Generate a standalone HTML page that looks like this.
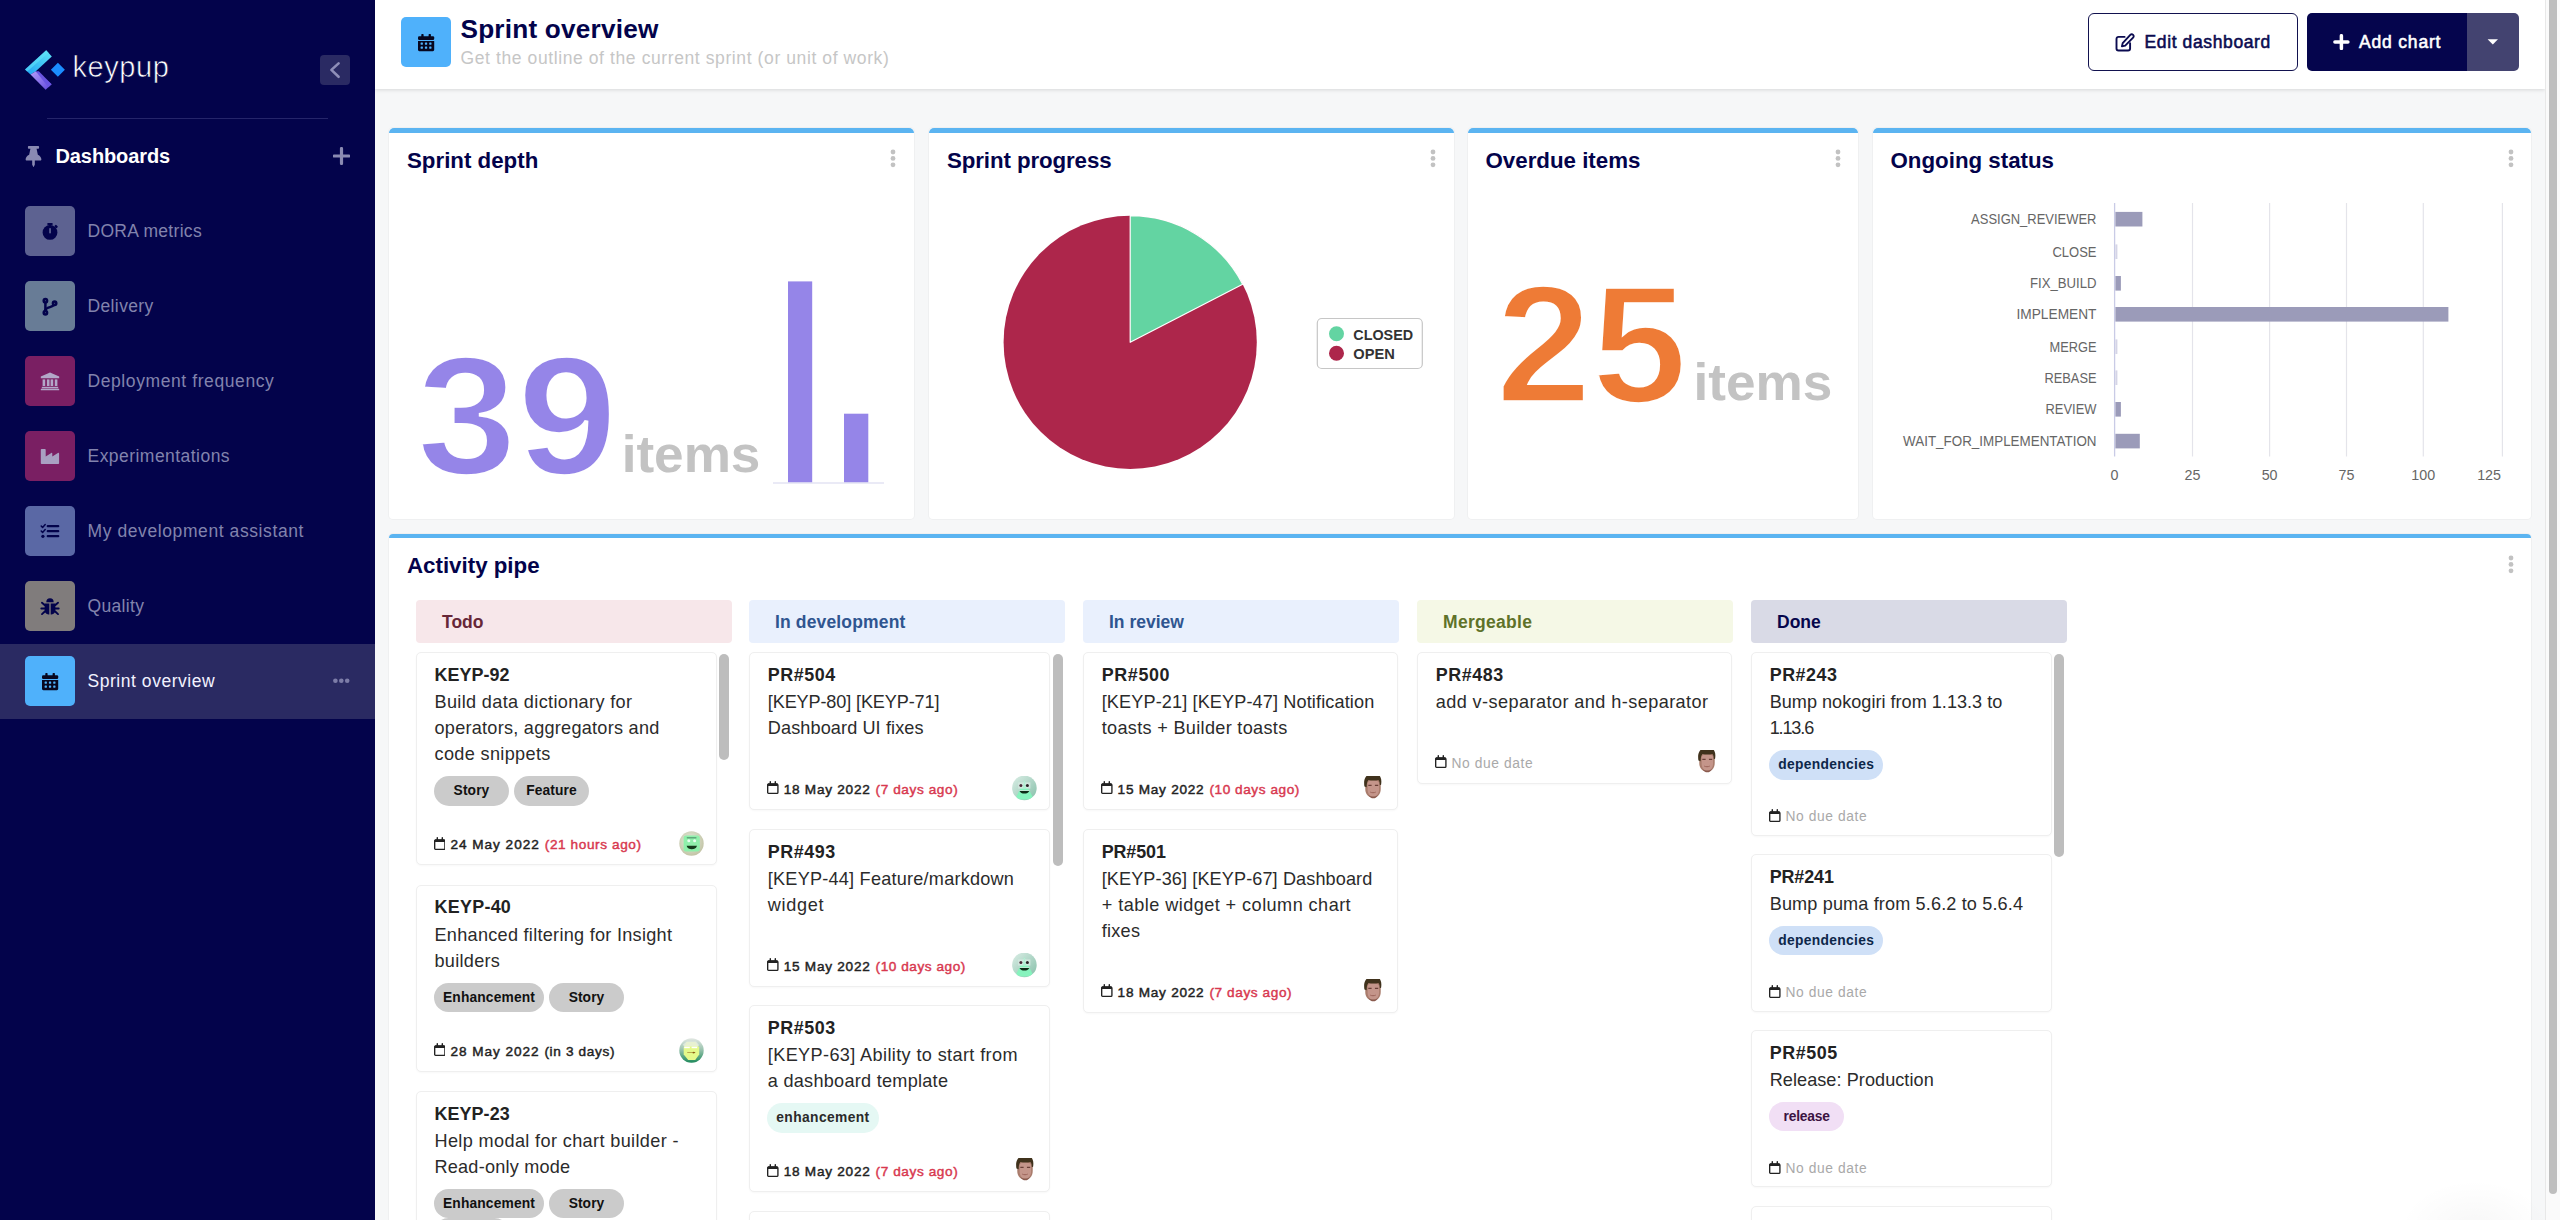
<!DOCTYPE html>
<html lang="en">
<head>
<meta charset="utf-8">
<title>Sprint overview</title>
<style>
*{box-sizing:border-box}
html,body{margin:0;padding:0}
body{width:2560px;height:1220px;overflow:hidden;position:relative;background:#f6f7f8;font-family:"Liberation Sans",sans-serif;color:#222}
.abs{position:absolute}
svg{display:block}
/* sidebar */
#sb{position:absolute;left:0;top:0;width:375px;height:1220px;background:#03034b}
#logo-txt{position:absolute;left:72.500px;top:47.300px;font-size:29px;line-height:40px;color:#fff;letter-spacing:.55px;-webkit-text-stroke:.65px #03034b;white-space:nowrap}
#collapse{position:absolute;left:320px;top:55px;width:30px;height:30px;border-radius:4px;background:#2a2a63}
#sb-div{position:absolute;left:47px;top:118px;width:281px;height:1px;background:#25256a}
#dash-h{position:absolute;left:55.5px;top:143px;font-size:20px;line-height:26px;font-weight:700;color:#fff;letter-spacing:-.1px;white-space:nowrap}
.nav{position:absolute;left:0;width:375px;height:75px}
.nav.act{background:#2a2a62}
.nav .tile{position:absolute;left:25px;top:12.5px;width:50px;height:50px;border-radius:5px}
.nav .lbl{position:absolute;left:87.5px;top:25px;font-size:17.5px;line-height:25px;color:#8283ad;letter-spacing:.47px;white-space:nowrap}
.nav.act .lbl{color:#f2f2ff}
.nav svg{position:absolute}
/* header */
#hd{position:absolute;left:375px;top:0;width:2169.500px;height:89px;background:#fff;box-shadow:0 1px 4px rgba(0,0,0,.13)}
#hd .tile{position:absolute;left:26px;top:17px;width:50px;height:50px;border-radius:5px;background:#4fb1fb}
#hd h1{position:absolute;left:85.5px;top:12px;margin:0;font-size:26.2px;line-height:34px;font-weight:700;color:#03034b;letter-spacing:.2px;white-space:nowrap}
#hd .sub{position:absolute;left:85.5px;top:45px;font-size:17.5px;line-height:26px;color:#c6c6c6;letter-spacing:.6px;white-space:nowrap}
.btn{position:absolute;top:13px;height:57.5px;border-radius:6px;font-size:17.5px;font-weight:700;white-space:nowrap}
#b-edit{left:1713px;width:210px;border:1.5px solid #12124f;background:#fff;color:#0b0b50}
#b-add{left:1932px;width:160px;background:#05054d;color:#fff;border-radius:5px 0 0 5px}
#b-dd{left:2092px;width:52px;background:#434370;border-radius:0 5px 5px 0}
.btn span{position:absolute;top:17.400px;line-height:22px;letter-spacing:0}
#b-edit span{font-weight:400;-webkit-text-stroke:.55px currentColor;letter-spacing:.62px}
#b-add span{font-weight:400;-webkit-text-stroke:.55px currentColor;letter-spacing:.82px;top:18.400px}
/* scrollbar */
#vs{position:absolute;left:2545.300px;top:0;width:14.700px;height:1220px;background:#fafafa;border-left:1px solid #e8e8e8}
#vs i{position:absolute;left:2.700px;top:-6px;width:8px;height:1199.500px;border-radius:4px;background:#bebebe}

/* widgets */
.w{position:absolute;background:#fff;border-radius:4px;box-shadow:0 0 0 1px #eff0f1}
.w:before{content:"";position:absolute;left:0;top:0;right:0;height:4.5px;background:#5bb4f1;border-radius:5px 5px 0 0}
.w h2{position:absolute;left:18px;top:18.800px;margin:0;font-size:22.3px;line-height:28px;font-weight:700;color:#03034b;white-space:nowrap}
.w .kb{position:absolute;top:21px;right:16.300px;width:8px;height:20px}
#ch{position:absolute;left:0;top:0;pointer-events:none}
#ch text{font-family:"Liberation Sans",sans-serif}

/* kanban */
.colh{position:absolute;top:600px;width:315.500px;height:43px;border-radius:4px;font-size:17.500px;font-weight:700;line-height:44.200px;padding-left:26px;white-space:nowrap}
.col{position:absolute;top:652.300px}
.card{position:relative;background:#fff;border:1px solid #efefef;border-radius:5px;padding:7.200px 17.500px 7.300px 17.500px;box-shadow:0 1px 2px rgba(0,0,0,.03)}
.card .t{font-size:17.900px;line-height:26px;font-weight:700;color:#222;white-space:nowrap;margin-top:1.300px}
.card .b{font-size:18.100px;line-height:26px;color:#2b2b2b;white-space:nowrap;margin-top:.900px;position:relative;top:.450px}
.card .bd{padding-top:9.400px;height:9.900px;white-space:nowrap;font-size:0;margin-left:-.500px}
.card .bd.h{height:39.400px}
.bg{display:inline-block;height:29.500px;min-width:75px;padding:0 9px;border-radius:15px;background:#cbcbcb;color:#111;font-size:13.800px;line-height:30px;font-weight:700;text-align:center;margin-right:5px;letter-spacing:0;vertical-align:top}
.card .f{margin-top:26px;height:25px;position:relative;font-size:13.600px;line-height:25px;font-weight:700;color:#222;white-space:nowrap}
.card .f.n{height:21.300px;line-height:21.300px;font-weight:400;color:#a9a9a9;font-size:13.800px}
.card .f .cal{position:absolute;left:-.700px;top:4.500px}
.card .f.n .cal{top:2.900px}
.card .f.n.a{height:25px;line-height:25px}
.card .f.n.a .cal{top:4.500px}
.card .f .d{position:absolute;left:15.900px;top:.400px;font-weight:400;-webkit-text-stroke:.45px currentColor}

.card .f.n .d{-webkit-text-stroke:0}
.card .f .r{color:#d8384f;margin-left:5px}
.card .f .k{margin-left:5px}
.card .f .av{position:absolute;right:-5.500px;top:-.600px;width:25px;height:25px}
.csb{position:absolute;width:10.500px;border-radius:5.500px;background:#bdbdbd}
</style>
</head>
<body>
<!-- SIDEBAR -->
<div id="sb">
  <svg class="abs" style="left:20px;top:45px" width="50" height="50" viewBox="20 45 50 50">
    <defs>
      <linearGradient id="lg1" x1="0" y1="1" x2="1" y2="0"><stop offset="0" stop-color="#1fa2f4"/><stop offset="1" stop-color="#5fe6f6"/></linearGradient>
      <linearGradient id="lg2" x1="0" y1="0" x2="1" y2="1"><stop offset="0" stop-color="#b39cfa"/><stop offset="1" stop-color="#5f48dc"/></linearGradient>
    </defs>
    <polygon points="25,69.5 46.2,50.2 51.8,56.4 35.8,71.2 30.5,74.6" fill="url(#lg1)"/>
    <polygon points="25,69.5 46.2,50.2 48.6,52.8 27.2,71.6" fill="#62e4f7" opacity=".55"/>
    <polygon points="30.5,74.6 35.8,71.2 51.6,84.2 45.6,89.8" fill="url(#lg2)"/>
    <polygon points="35.8,71.2 38.8,71.2 51.6,84.2 48.4,87.2" fill="#6a55e2"/>
    <polygon points="57.9,62.8 64.9,69.8 57.9,76.8 50.9,69.8" fill="#1b8dff"/>
  </svg>
  <div id="logo-txt">keypup</div>
  <div id="collapse"><svg width="30" height="30" viewBox="0 0 30 30"><polyline points="18.6,8.4 11.4,14.9 18.6,21.8" fill="none" stroke="#8e8eb8" stroke-width="2.6" stroke-linecap="round" stroke-linejoin="round"/></svg></div>
  <div id="sb-div"></div>
  <svg class="abs" style="left:25px;top:146px" width="17" height="21" viewBox="0 0 384 512"><path fill="#8a8ab2" d="M298 214l-31-150h37c13 0 24-11 24-24V24c0-13-11-24-24-24H80C67 0 56 11 56 24v16c0 13 11 24 24 24h37L86 214C37 237 0 277 0 328c0 13 11 24 24 24h136v104c0 1 0 2 1 4l24 48c3 6 11 6 14 0l24-48c1-2 1-3 1-4V352h136c13 0 24-11 24-24 0-51-37-91-86-114z"/></svg>
  <div id="dash-h">Dashboards</div>
  <svg class="abs" style="left:333px;top:147px" width="17" height="18" viewBox="0 0 17 18"><path d="M8.5 1.5v15M1.2 9h14.6" stroke="#8a8ab2" stroke-width="3.2" stroke-linecap="round" fill="none"/></svg>

  <div class="nav" style="top:193.5px"><div class="tile" style="background:#5d6291"></div><div class="lbl" style="letter-spacing:.3px">DORA metrics</div></div>
  <div class="nav" style="top:268.5px"><div class="tile" style="background:#687c96"></div><div class="lbl" style="letter-spacing:.37px">Delivery</div></div>
  <div class="nav" style="top:343.5px"><div class="tile" style="background:#7a1f63"></div><div class="lbl" style="letter-spacing:.59px">Deployment frequency</div></div>
  <div class="nav" style="top:418.5px"><div class="tile" style="background:#7a1f63"></div><div class="lbl" style="letter-spacing:.46px">Experimentations</div></div>
  <div class="nav" style="top:493.5px"><div class="tile" style="background:#5a68a5"></div><div class="lbl" style="letter-spacing:.59px">My development assistant</div></div>
  <div class="nav" style="top:568.5px"><div class="tile" style="background:#807c7c"></div><div class="lbl" style="letter-spacing:.32px">Quality</div></div>
  <div class="nav act" style="top:643.5px"><div class="tile" style="background:#4fb1fb"></div><div class="lbl" style="letter-spacing:.54px">Sprint overview</div>
    <svg style="left:332px;top:33px" width="20" height="8" viewBox="0 0 20 8"><circle cx="3.4" cy="3.7" r="2.3" fill="#7d7da8"/><circle cx="9.3" cy="3.7" r="2.3" fill="#7d7da8"/><circle cx="15.2" cy="3.7" r="2.3" fill="#7d7da8"/></svg>
  </div>
  <svg class="abs" style="left:25px;top:206px" width="50" height="50" viewBox="0 0 50 50"><circle cx="25" cy="26.4" r="7.4" fill="#03034b"/><rect x="22.4" y="17" width="5.2" height="2.2" rx=".6" fill="#03034b"/><rect x="24" y="18.5" width="2" height="2.2" fill="#03034b"/><rect x="29.6" y="19.3" width="3" height="2.4" rx=".6" transform="rotate(45 31.1 20.5)" fill="#03034b"/><rect x="24.2" y="22" width="1.7" height="5.6" rx=".8" fill="#5d6291"/></svg>
  <svg class="abs" style="left:25px;top:281px" width="50" height="50" viewBox="0 0 50 50"><g fill="none" stroke="#03034b" stroke-width="2.5"><path d="M20.4 20v11.5"/><path d="M29.6 22.6c0 4.600-9.200 2.400-9.200 7"/><circle cx="20.400" cy="19.700" r="1.700" fill="#687c96"/><circle cx="20.400" cy="31.700" r="1.700" fill="#687c96"/><circle cx="29.600" cy="22.200" r="1.700" fill="#687c96"/></g></svg>
  <svg class="abs" style="left:25px;top:356px" width="50" height="50" viewBox="0 0 50 50"><g fill="#b3a7c8"><path d="M25 16.4 34.2 20.6v1.6H15.8v-1.6z"/><rect x="17.6" y="23.4" width="2.6" height="6.6"/><rect x="21.9" y="23.4" width="2.6" height="6.6"/><rect x="25.6" y="23.4" width="2.6" height="6.6"/><rect x="29.8" y="23.4" width="2.6" height="6.6"/><rect x="16.8" y="30.8" width="16.4" height="1.5"/><rect x="15.8" y="32.8" width="18.4" height="1.5" rx=".4"/></g></svg>
  <svg class="abs" style="left:25px;top:431px" width="50" height="50" viewBox="0 0 50 50"><path fill="#a9a0c2" d="M16.6 18h3.3c.5 0 .8.3.8.8v6.7l5.6-3.6c.5-.3 1 0 1 .6v3l5.6-3.6c.5-.3 1.2 0 1.2.6v9.7c0 .5-.3.8-.8.8H16.6c-.5 0-.8-.3-.8-.8V18.800c0-.5.3-.8.8-.8z"/></svg>
  <svg class="abs" style="left:25px;top:506px" width="50" height="50" viewBox="0 0 50 50"><g stroke="#03034b" fill="none" stroke-width="2.3" stroke-linecap="round"><path d="M22.8 20.200h10.400M22.800 25.200h10.400M22.800 30.200h10.400"/></g><g stroke="#03034b" fill="none" stroke-width="1.5" stroke-linecap="round" stroke-linejoin="round"><path d="M16.200 20l1.400 1.400 2.600-2.800M16.200 25l1.400 1.400 2.600-2.800"/></g><circle cx="17.900" cy="30.300" r="1.600" fill="#03034b"/></svg>
  <svg class="abs" style="left:25px;top:581px" width="50" height="50" viewBox="0 0 50 50"><g fill="#03034b"><path d="M21.300 21.200a3.700 3.900 0 0 1 7.400 0z"/><path d="M19.600 22.500h4.700v11h-.7a4.400 4.400 0 0 1-4-4.400zM25.700 22.500h4.700v6.600a4.400 4.400 0 0 1-4 4.400h-.7z"/></g><g stroke="#03034b" stroke-width="1.900" fill="none" stroke-linecap="round"><path d="M19.600 24l-2.600-2.300M19.600 27.500h-3.300M19.800 30.500l-2.800 2.600M30.400 24l2.600-2.300M30.400 27.500h3.300M30.200 30.500l2.800 2.600"/></g></svg>
  <svg class="abs" style="left:25px;top:656px" width="50" height="50" viewBox="0 0 50 50"><g fill="#07071f"><rect x="17" y="19.200" width="16.200" height="3.800" rx="1.200"/><rect x="20.300" y="17" width="2.300" height="4" rx=".7"/><rect x="27.600" y="17" width="2.300" height="4" rx=".7"/><path d="M17 24h16.200v8.800c0 .8-.6 1.400-1.400 1.400H18.400c-.8 0-1.400-.6-1.400-1.400z"/></g><rect x="19.6" y="25.6" width="2.300" height="2.100" rx=".4" fill="#4fb1fb"/><rect x="23.9" y="25.6" width="2.300" height="2.100" rx=".4" fill="#4fb1fb"/><rect x="28.2" y="25.6" width="2.300" height="2.100" rx=".4" fill="#4fb1fb"/><rect x="19.6" y="29.6" width="2.300" height="2.100" rx=".4" fill="#4fb1fb"/><rect x="23.9" y="29.6" width="2.300" height="2.100" rx=".4" fill="#4fb1fb"/><rect x="28.2" y="29.6" width="2.300" height="2.100" rx=".4" fill="#4fb1fb"/></svg>
  <!--SBICONS-->
</div>

<!-- HEADER -->
<div id="hd">
  <div class="tile"></div>
  <svg class="abs" style="left:26px;top:17px" width="50" height="50" viewBox="0 0 50 50"><g fill="#07071f"><rect x="17" y="19.200" width="16.200" height="3.800" rx="1.200"/><rect x="20.300" y="17" width="2.300" height="4" rx=".7"/><rect x="27.600" y="17" width="2.300" height="4" rx=".7"/><path d="M17 24h16.200v8.800c0 .8-.6 1.400-1.400 1.400H18.400c-.8 0-1.400-.6-1.400-1.400z"/></g><rect x="19.6" y="25.6" width="2.300" height="2.100" rx=".4" fill="#4fb1fb"/><rect x="23.9" y="25.6" width="2.300" height="2.100" rx=".4" fill="#4fb1fb"/><rect x="28.2" y="25.6" width="2.300" height="2.100" rx=".4" fill="#4fb1fb"/><rect x="19.6" y="29.6" width="2.300" height="2.100" rx=".4" fill="#4fb1fb"/><rect x="23.9" y="29.6" width="2.300" height="2.100" rx=".4" fill="#4fb1fb"/><rect x="28.2" y="29.6" width="2.300" height="2.100" rx=".4" fill="#4fb1fb"/></svg>
  <h1>Sprint overview</h1>
  <div class="sub">Get the outline of the current sprint (or unit of work)</div>
  <div class="btn" id="b-edit"><span style="left:55.5px">Edit dashboard</span></div>
  <div class="btn" id="b-add"><span style="left:52px">Add chart</span></div>
  <div class="btn" id="b-dd"></div>
  <svg class="abs" style="left:1740px;top:33px" width="21" height="19" viewBox="0 0 21 19"><g fill="none" stroke="#0b0b50" stroke-width="1.900" stroke-linejoin="round" stroke-linecap="round"><path d="M9.600 3.900H3.500c-1.100 0-2 .9-2 2v9.600c0 1.100.9 2 2 2h9.600c1.100 0 2-.9 2-2V10.200"/><path d="M15.300 1.900c.8-.8 2-.8 2.800 0s.8 2 0 2.800L10.200 12.600 6.900 13.400l.8-3.300z"/></g></svg>
  <svg class="abs" style="left:1958px;top:34px" width="17" height="16" viewBox="0 0 17 16"><path d="M8.400 1.700v12.700M1.900 8h13" stroke="#fff" stroke-width="3.500" stroke-linecap="round" fill="none"/></svg>
  <svg class="abs" style="left:2112px;top:39px" width="12" height="6" viewBox="0 0 12 6"><path d="M.6.300h10.400L5.800 5.500z" fill="#fff"/></svg>
</div>
<div id="vs"><i></i></div>
<div style="position:absolute;left:2400px;top:1170px;width:145px;height:50px;background:radial-gradient(ellipse 75px 50px at 75px 60px,rgba(0,0,0,.03),rgba(0,0,0,0));z-index:5"></div>


<div class="w" style="left:389px;top:128px;width:524.500px;height:390.500px"><h2>Sprint depth</h2><svg class="kb" viewBox="0 0 8 20"><circle cx="4" cy="3" r="2.4" fill="#c2c2c2"/><circle cx="4" cy="9.400" r="2.400" fill="#c2c2c2"/><circle cx="4" cy="15.800" r="2.400" fill="#c2c2c2"/></svg></div>
<div class="w" style="left:929px;top:128px;width:524.500px;height:390.500px"><h2 style="letter-spacing:-.1px">Sprint progress</h2><svg class="kb" viewBox="0 0 8 20"><circle cx="4" cy="3" r="2.4" fill="#c2c2c2"/><circle cx="4" cy="9.400" r="2.400" fill="#c2c2c2"/><circle cx="4" cy="15.800" r="2.400" fill="#c2c2c2"/></svg></div>
<div class="w" style="left:1467.500px;top:128px;width:390.500px;height:390.500px"><h2>Overdue items</h2><svg class="kb" viewBox="0 0 8 20"><circle cx="4" cy="3" r="2.4" fill="#c2c2c2"/><circle cx="4" cy="9.400" r="2.400" fill="#c2c2c2"/><circle cx="4" cy="15.800" r="2.400" fill="#c2c2c2"/></svg></div>
<div class="w" style="left:1872.500px;top:128px;width:658.500px;height:390.500px"><h2>Ongoing status</h2><svg class="kb" viewBox="0 0 8 20"><circle cx="4" cy="3" r="2.4" fill="#c2c2c2"/><circle cx="4" cy="9.400" r="2.400" fill="#c2c2c2"/><circle cx="4" cy="15.800" r="2.400" fill="#c2c2c2"/></svg></div>
<div class="w" id="ap" style="left:389px;top:533.500px;width:2142px;height:700px"><h2 style="top:18px">Activity pipe</h2><svg class="kb" viewBox="0 0 8 20"><circle cx="4" cy="3" r="2.4" fill="#c2c2c2"/><circle cx="4" cy="9.400" r="2.400" fill="#c2c2c2"/><circle cx="4" cy="15.800" r="2.400" fill="#c2c2c2"/></svg></div>

<svg id="ch" width="2560" height="1220" viewBox="0 0 2560 1220">
  <text id="n39" x="416.500" y="474.300" font-size="169" font-weight="700" fill="#9585e8" stroke="#fff" stroke-width="3.600" textLength="201" lengthAdjust="spacingAndGlyphs">39</text>
  <text id="it1" x="621.700" y="472" font-size="52" font-weight="700" fill="#c3c3c3" textLength="138.700" lengthAdjust="spacingAndGlyphs">items</text>
  <rect x="788" y="281.400" width="24.200" height="201" fill="#9585e8"/>
  <rect x="844" y="413.700" width="24.300" height="68.700" fill="#9585e8"/>
  <path d="M773 483H884" stroke="#d5d6ee" stroke-width="1.200"/>
  <circle cx="1130.2" cy="342.3" r="126.6" fill="#ad264b"/>
  <path d="M1130.2 342.3L1130.2 215.70000000000002A126.6 126.6 0 0 1 1242.7 284.2Z" fill="#63d4a2" stroke="#fff" stroke-width="1.200" stroke-linejoin="round"/>
  <rect x="1317.300" y="318.500" width="105" height="50" rx="4.500" fill="#fff" stroke="#c6c6c6" stroke-width="1.200"/>
  <circle cx="1336.500" cy="333.700" r="7.500" fill="#63d4a2"/><circle cx="1336.500" cy="353.200" r="7.500" fill="#ad264b"/>
  <text x="1353.300" y="339.500" font-size="15.200" font-weight="700" fill="#333" textLength="59.800" lengthAdjust="spacingAndGlyphs">CLOSED</text>
  <text x="1353.300" y="358.800" font-size="15.200" font-weight="700" fill="#333" textLength="41.500" lengthAdjust="spacingAndGlyphs">OPEN</text>
  <text id="n25" x="1495.700" y="401.600" font-size="167" font-weight="700" fill="#ee7b36" stroke="#fff" stroke-width="3.600" textLength="191.800" lengthAdjust="spacingAndGlyphs">25</text>
  <text id="it2" x="1693.600" y="400.400" font-size="52" font-weight="700" fill="#c3c3c3" textLength="138.700" lengthAdjust="spacingAndGlyphs">items</text>
  <path d="M2192.5 203V456.500" stroke="#e4e4ea" stroke-width="1.200"/><path d="M2269.6 203V456.500" stroke="#e4e4ea" stroke-width="1.200"/><path d="M2346.5 203V456.500" stroke="#e4e4ea" stroke-width="1.200"/><path d="M2423.3 203V456.500" stroke="#e4e4ea" stroke-width="1.200"/><path d="M2502.4 203V456.500" stroke="#e4e4ea" stroke-width="1.200"/><path d="M2114.6 203V456.500" stroke="#c9cbe6" stroke-width="1.300"/><rect x="2115.4" y="211.9" width="27" height="14.6" fill="#9b9bb9"/><text x="2096.500" y="224.2" text-anchor="end" font-size="14.300" fill="#666" textLength="125.4" lengthAdjust="spacingAndGlyphs">ASSIGN_REVIEWER</text><rect x="2115.4" y="244.4" width="2" height="14.6" fill="#d5d5e6"/><text x="2096.500" y="256.7" text-anchor="end" font-size="14.300" fill="#666" textLength="44" lengthAdjust="spacingAndGlyphs">CLOSE</text><rect x="2115.4" y="276.0" width="5.5" height="14.6" fill="#9b9bb9"/><text x="2096.500" y="288.3" text-anchor="end" font-size="14.300" fill="#666" textLength="66.5" lengthAdjust="spacingAndGlyphs">FIX_BUILD</text><rect x="2115.4" y="307.0" width="333" height="14.6" fill="#9b9bb9"/><text x="2096.500" y="319.3" text-anchor="end" font-size="14.300" fill="#666" textLength="80" lengthAdjust="spacingAndGlyphs">IMPLEMENT</text><rect x="2115.4" y="339.4" width="2" height="14.6" fill="#d5d5e6"/><text x="2096.500" y="351.7" text-anchor="end" font-size="14.300" fill="#666" textLength="47" lengthAdjust="spacingAndGlyphs">MERGE</text><rect x="2115.4" y="370.4" width="2" height="14.6" fill="#d5d5e6"/><text x="2096.500" y="382.7" text-anchor="end" font-size="14.300" fill="#666" textLength="52" lengthAdjust="spacingAndGlyphs">REBASE</text><rect x="2115.4" y="402.0" width="5.5" height="14.6" fill="#9b9bb9"/><text x="2096.500" y="414.3" text-anchor="end" font-size="14.300" fill="#666" textLength="51" lengthAdjust="spacingAndGlyphs">REVIEW</text><rect x="2115.4" y="433.8" width="24.4" height="14.6" fill="#9b9bb9"/><text x="2096.500" y="446.1" text-anchor="end" font-size="14.300" fill="#666" textLength="193.4" lengthAdjust="spacingAndGlyphs">WAIT_FOR_IMPLEMENTATION</text><text x="2114.6" y="480.300" text-anchor="middle" font-size="14.300" fill="#666">0</text><text x="2192.5" y="480.300" text-anchor="middle" font-size="14.300" fill="#666">25</text><text x="2269.6" y="480.300" text-anchor="middle" font-size="14.300" fill="#666">50</text><text x="2346.5" y="480.300" text-anchor="middle" font-size="14.300" fill="#666">75</text><text x="2423.3" y="480.300" text-anchor="middle" font-size="14.300" fill="#666">100</text><text x="2501" y="480.300" text-anchor="end" font-size="14.300" fill="#666">125</text>
</svg>


<div class="colh" style="left:416px;background:#f7e7ea;color:#672738">Todo</div>
<div class="colh" style="left:749px;background:#e9f0fd;color:#2f5590;letter-spacing:.15px">In development</div>
<div class="colh" style="left:1083px;background:#e9f0fd;color:#2f5590">In review</div>
<div class="colh" style="left:1417px;background:#f5f8e6;color:#5f7229;letter-spacing:.3px">Mergeable</div>
<div class="colh" style="left:1751px;background:#d9dae6;color:#06064c">Done</div>

<div class="col" style="left:416px;width:300.500px">
<div class="card" style="margin-bottom:19.600px"><div class="t"><span style="letter-spacing:0.05px">KEYP-92</span></div><div class="b"><span style="letter-spacing:0.35px">Build data dictionary for</span><br><span style="letter-spacing:0.26px">operators, aggregators and</span><br><span style="letter-spacing:0.35px">code snippets</span></div><div class="bd h"><span class="bg" style="background:#cbcbcb;letter-spacing:0.1px">Story</span><span class="bg" style="background:#cbcbcb;letter-spacing:0.11px">Feature</span></div><div class="f"><svg class="cal" width="11.600" height="13.500" viewBox="0 0 12 14"><path d="M1.600 3.200h8.800c.5 0 .9.400.9.900v7.800c0 .5-.4.900-.9.900H1.600c-.5 0-.9-.4-.9-.9V4.100c0-.5.4-.9.9-.9z" fill="none" stroke="#222" stroke-width="1.400"/><path d="M.7 3.600c0-.8.5-1.200 1.200-1.200h8.200c.7 0 1.200.4 1.200 1.200v1.500H.7z" fill="#222"/><path d="M3.400.8v2.400M8.600.8v2.400" stroke="#222" stroke-width="1.500" stroke-linecap="round"/></svg><span class="d"><span style="letter-spacing:0.98px">24 May 2022</span><span class="r" style="letter-spacing:0.6px">(21 hours ago)</span></span><svg class="av" viewBox="0 0 25 25"><defs><radialGradient id="ag1" cx=".45" cy=".4" r=".6"><stop offset="0" stop-color="#e6efe2"/><stop offset="1" stop-color="#c3c4a6"/></radialGradient><filter id="bl"><feGaussianBlur stdDeviation=".45"/></filter></defs><circle cx="12.500" cy="12.500" r="12.200" fill="url(#ag1)"/><g filter="url(#bl)"><rect x="4.600" y="4.400" width="16.200" height="16" rx="2.500" fill="#8ff0ab"/><rect x="7.800" y="6" width="9.600" height="1.500" fill="#5ea87a"/><circle cx="9.800" cy="9.800" r="1.500" fill="#e9fff0"/><circle cx="15.600" cy="9.800" r="1.500" fill="#e9fff0"/><path d="M7.600 14.800h10.400c-.8 2.600-2.800 3.400-5.200 3.400s-4.400-.8-5.200-3.400z" fill="#123a1c"/></g></svg></div></div>
<div class="card" style="margin-bottom:19px"><div class="t"><span style="letter-spacing:0.29px">KEYP-40</span></div><div class="b"><span style="letter-spacing:0.28px">Enhanced filtering for Insight</span><br><span style="letter-spacing:0.29px">builders</span></div><div class="bd h"><span class="bg" style="background:#cbcbcb;letter-spacing:0.14px">Enhancement</span><span class="bg" style="background:#cbcbcb;letter-spacing:0.1px">Story</span></div><div class="f"><svg class="cal" width="11.600" height="13.500" viewBox="0 0 12 14"><path d="M1.600 3.200h8.800c.5 0 .9.400.9.900v7.800c0 .5-.4.900-.9.900H1.600c-.5 0-.9-.4-.9-.9V4.100c0-.5.4-.9.9-.9z" fill="none" stroke="#222" stroke-width="1.400"/><path d="M.7 3.600c0-.8.5-1.200 1.200-1.200h8.200c.7 0 1.200.4 1.200 1.200v1.500H.7z" fill="#222"/><path d="M3.400.8v2.400M8.600.8v2.400" stroke="#222" stroke-width="1.500" stroke-linecap="round"/></svg><span class="d"><span style="letter-spacing:0.95px">28 May 2022</span><span class="k" style="letter-spacing:0.66px">(in 3 days)</span></span><svg class="av" viewBox="0 0 25 25"><defs><linearGradient id="ag2" x1="0" y1="0" x2="0" y2="1"><stop offset="0" stop-color="#e3e8e3"/><stop offset=".45" stop-color="#9cc4b0"/><stop offset="1" stop-color="#1f8a5b"/></linearGradient></defs><circle cx="12.500" cy="12.500" r="12.200" fill="url(#ag2)"/><g filter="url(#bl)"><path d="M4.700 9.500l3-5.500h8.500l4 5.500v7l-4 5.500H9.200l-4.500-5.500z" fill="#e4f98a"/><path d="M4 6.500l4-3 9 0 3 3.500-1 1.500H5z" fill="#e9efe2" opacity=".8"/><rect x="5.200" y="8.700" width="5.600" height="1.500" fill="#fff"/><rect x="12.600" y="8.700" width="5.600" height="1.500" fill="#fff"/><path d="M8.200 14.600h5l1.600-.8 1.800.8-1.800.9-1.600-.5h-5z" fill="#8a5a14"/></g></svg></div></div>
<div class="card" style=""><div class="t"><span style="letter-spacing:0.1px">KEYP-23</span></div><div class="b"><span style="letter-spacing:0.37px">Help modal for chart builder -</span><br><span style="letter-spacing:0.22px">Read-only mode</span></div><div class="bd h"><span class="bg" style="background:#cbcbcb;letter-spacing:0.14px">Enhancement</span><span class="bg" style="background:#cbcbcb;letter-spacing:0.1px">Story</span><span class="bg" style="background:#cbcbcb;position:absolute;left:17px;top:125.800px">Feature</span></div><div class="f"><svg class="cal" width="11.600" height="13.500" viewBox="0 0 12 14"><path d="M1.600 3.200h8.800c.5 0 .9.400.9.900v7.800c0 .5-.4.900-.9.900H1.600c-.5 0-.9-.4-.9-.9V4.100c0-.5.4-.9.9-.9z" fill="none" stroke="#222" stroke-width="1.400"/><path d="M.7 3.600c0-.8.5-1.200 1.200-1.200h8.200c.7 0 1.200.4 1.200 1.200v1.500H.7z" fill="#222"/><path d="M3.400.8v2.400M8.600.8v2.400" stroke="#222" stroke-width="1.500" stroke-linecap="round"/></svg><span class="d"><span style="letter-spacing:0.95px">28 May 2022</span><span class="k" style="letter-spacing:0.66px">(in 3 days)</span></span><svg class="av" viewBox="0 0 25 25"><defs><linearGradient id="ag2" x1="0" y1="0" x2="0" y2="1"><stop offset="0" stop-color="#e3e8e3"/><stop offset=".45" stop-color="#9cc4b0"/><stop offset="1" stop-color="#1f8a5b"/></linearGradient></defs><circle cx="12.500" cy="12.500" r="12.200" fill="url(#ag2)"/><g filter="url(#bl)"><path d="M4.700 9.500l3-5.500h8.500l4 5.500v7l-4 5.500H9.200l-4.500-5.500z" fill="#e4f98a"/><path d="M4 6.500l4-3 9 0 3 3.500-1 1.500H5z" fill="#e9efe2" opacity=".8"/><rect x="5.200" y="8.700" width="5.600" height="1.500" fill="#fff"/><rect x="12.600" y="8.700" width="5.600" height="1.500" fill="#fff"/><path d="M8.200 14.600h5l1.600-.8 1.800.8-1.800.9-1.600-.5h-5z" fill="#8a5a14"/></g></svg></div></div>
</div>
<div class="csb" style="left:718.800px;top:654px;height:105.600px"></div>

<div class="col" style="left:749.300px;width:301.200px">
<div class="card" style="margin-bottom:19.600px"><div class="t"><span style="letter-spacing:0.57px">PR#504</span></div><div class="b"><span style="letter-spacing:-0.13px">[KEYP-80] [KEYP-71]</span><br><span style="letter-spacing:0.11px">Dashboard UI fixes</span></div><div class="bd"></div><div class="f"><svg class="cal" width="11.600" height="13.500" viewBox="0 0 12 14"><path d="M1.600 3.200h8.800c.5 0 .9.400.9.900v7.800c0 .5-.4.900-.9.900H1.600c-.5 0-.9-.4-.9-.9V4.100c0-.5.4-.9.9-.9z" fill="none" stroke="#222" stroke-width="1.400"/><path d="M.7 3.600c0-.8.5-1.200 1.200-1.200h8.200c.7 0 1.200.4 1.200 1.200v1.500H.7z" fill="#222"/><path d="M3.400.8v2.400M8.600.8v2.400" stroke="#222" stroke-width="1.500" stroke-linecap="round"/></svg><span class="d"><span style="letter-spacing:0.75px">18 May 2022</span><span class="r" style="letter-spacing:0.6px">(7 days ago)</span></span><svg class="av" viewBox="0 0 25 25"><defs><linearGradient id="ag3" x1="0" y1="0" x2="1" y2="1"><stop offset="0" stop-color="#dbeee6"/><stop offset="1" stop-color="#86bfa9"/></linearGradient><clipPath id="cp3"><circle cx="12.400" cy="11.900" r="12.200"/></clipPath></defs><circle cx="12.400" cy="11.900" r="12.300" fill="url(#ag3)"/><g filter="url(#bl)" clip-path="url(#cp3)"><path d="M12.400 4.200L21.800 23.500H3z" fill="#86f3bd"/><path d="M12.400 4.200L16.300 12.200H8.500z" fill="#bfe9d8"/><rect x="6.200" y="6.400" width="12.200" height="6.200" fill="#d8e9e3" opacity=".75"/><path d="M12.400 4.500l2 8.500h-4z" fill="#a9f0d0" opacity=".8"/><circle cx="8.900" cy="9.600" r="1.500" fill="#4a2c38"/><circle cx="15.400" cy="9.600" r="1.500" fill="#2a2226"/><path d="M7.400 14.700h10c-.8 2.200-2.700 2.800-5 2.800s-4.200-.6-5-2.800z" fill="#0e2c18"/><path d="M7.200 14.300h10.400l-.3.800H7.500z" fill="#f4fff9" opacity=".85"/></g></svg></div></div>
<div class="card" style="margin-bottom:18.300px"><div class="t"><span style="letter-spacing:0.57px">PR#493</span></div><div class="b"><span style="letter-spacing:0.23px">[KEYP-44] Feature/markdown</span><br><span style="letter-spacing:0.68px">widget</span></div><div class="bd"></div><div class="f"><svg class="cal" width="11.600" height="13.500" viewBox="0 0 12 14"><path d="M1.600 3.200h8.800c.5 0 .9.400.9.900v7.800c0 .5-.4.900-.9.900H1.600c-.5 0-.9-.4-.9-.9V4.100c0-.5.4-.9.9-.9z" fill="none" stroke="#222" stroke-width="1.400"/><path d="M.7 3.600c0-.8.5-1.200 1.200-1.200h8.200c.7 0 1.200.4 1.200 1.200v1.500H.7z" fill="#222"/><path d="M3.400.8v2.400M8.600.8v2.400" stroke="#222" stroke-width="1.500" stroke-linecap="round"/></svg><span class="d"><span style="letter-spacing:0.75px">15 May 2022</span><span class="r" style="letter-spacing:0.56px">(10 days ago)</span></span><svg class="av" viewBox="0 0 25 25"><defs><linearGradient id="ag3" x1="0" y1="0" x2="1" y2="1"><stop offset="0" stop-color="#dbeee6"/><stop offset="1" stop-color="#86bfa9"/></linearGradient><clipPath id="cp3"><circle cx="12.400" cy="11.900" r="12.200"/></clipPath></defs><circle cx="12.400" cy="11.900" r="12.300" fill="url(#ag3)"/><g filter="url(#bl)" clip-path="url(#cp3)"><path d="M12.400 4.200L21.800 23.500H3z" fill="#86f3bd"/><path d="M12.400 4.200L16.300 12.200H8.500z" fill="#bfe9d8"/><rect x="6.200" y="6.400" width="12.200" height="6.200" fill="#d8e9e3" opacity=".75"/><path d="M12.400 4.500l2 8.500h-4z" fill="#a9f0d0" opacity=".8"/><circle cx="8.900" cy="9.600" r="1.500" fill="#4a2c38"/><circle cx="15.400" cy="9.600" r="1.500" fill="#2a2226"/><path d="M7.400 14.700h10c-.8 2.200-2.700 2.800-5 2.800s-4.200-.6-5-2.800z" fill="#0e2c18"/><path d="M7.200 14.300h10.400l-.3.800H7.500z" fill="#f4fff9" opacity=".85"/></g></svg></div></div>
<div class="card" style="margin-bottom:18.800px"><div class="t"><span style="letter-spacing:0.57px">PR#503</span></div><div class="b"><span style="letter-spacing:0.38px">[KEYP-63] Ability to start from</span><br><span style="letter-spacing:0.27px">a dashboard template</span></div><div class="bd h"><span class="bg" style="background:#e5f8f4;color:#2a2a2a;letter-spacing:0.39px">enhancement</span></div><div class="f"><svg class="cal" width="11.600" height="13.500" viewBox="0 0 12 14"><path d="M1.600 3.200h8.800c.5 0 .9.400.9.900v7.800c0 .5-.4.900-.9.900H1.600c-.5 0-.9-.4-.9-.9V4.100c0-.5.4-.9.9-.9z" fill="none" stroke="#222" stroke-width="1.400"/><path d="M.7 3.600c0-.8.5-1.200 1.200-1.200h8.200c.7 0 1.200.4 1.200 1.200v1.500H.7z" fill="#222"/><path d="M3.400.8v2.400M8.600.8v2.400" stroke="#222" stroke-width="1.500" stroke-linecap="round"/></svg><span class="d"><span style="letter-spacing:0.75px">18 May 2022</span><span class="r" style="letter-spacing:0.6px">(7 days ago)</span></span><svg class="av" viewBox="0 0 25 25"><g filter="url(#bl)" transform="translate(13 9.800) scale(1.380 1.400) translate(-13.200 -12)"><path d="M7.600 9.500c0-4.200 2.400-6.200 5.600-6.200 3.600 0 5.600 2.200 5.600 6.200v4.800c0 3.900-2.600 6.200-5.600 6.200-3.200 0-5.600-2.400-5.600-6.200z" fill="#a97c6c"/><path d="M9.300 10.500c0-1.600 1-2.500 4-2.500s4.300.9 4.300 2.500v4.200c0 2.800-1.800 5.300-4.300 5.300s-4-2.500-4-5.300z" fill="#c4958a"/><path d="M7 12.500c-.3-1.600-.5-4.400.6-6.200C8.800 4.200 10.800 3 13.300 3c2.700 0 4.600 1.100 5.400 3 .8 1.700.6 4 .3 5.500l-.9-.3c0-1.400-.2-2.600-1-3.400-1.800.6-5 .6-7.200 0-.9.900-1.300 2.600-1.300 5.200z" fill="#40321c"/><path d="M9.800 11.700h2.400M14.600 11.700h2.400" stroke="#6b4038" stroke-width=".9"/><path d="M11.200 16.500c1.200.6 2.800.6 4 0" stroke="#9a6258" stroke-width=".7" fill="none"/><path d="M9.800 18.500c1 1.800 2.300 2.400 3.600 2.400 1.400 0 2.700-.7 3.600-2.400-1 .8-2.300 1.100-3.600 1.100s-2.600-.3-3.600-1.100z" fill="#8a5a4e"/></g></svg></div></div>
<div class="card" style=""><div class="t"><span style="letter-spacing:0.57px">PR#502</span></div><div class="b">&nbsp;</div><div class="bd"></div><div class="f"><svg class="cal" width="11.600" height="13.500" viewBox="0 0 12 14"><path d="M1.600 3.200h8.800c.5 0 .9.400.9.900v7.800c0 .5-.4.900-.9.900H1.600c-.5 0-.9-.4-.9-.9V4.100c0-.5.4-.9.9-.9z" fill="none" stroke="#222" stroke-width="1.400"/><path d="M.7 3.600c0-.8.5-1.200 1.200-1.200h8.200c.7 0 1.200.4 1.200 1.200v1.500H.7z" fill="#222"/><path d="M3.400.8v2.400M8.600.8v2.400" stroke="#222" stroke-width="1.500" stroke-linecap="round"/></svg><span class="d"><span style="letter-spacing:0.75px">18 May 2022</span><span class="r" style="letter-spacing:0.6px">(7 days ago)</span></span><svg class="av" viewBox="0 0 25 25"><g filter="url(#bl)" transform="translate(13 9.800) scale(1.380 1.400) translate(-13.200 -12)"><path d="M7.600 9.500c0-4.200 2.400-6.200 5.600-6.200 3.600 0 5.600 2.200 5.600 6.200v4.800c0 3.900-2.600 6.200-5.600 6.200-3.200 0-5.600-2.400-5.600-6.200z" fill="#a97c6c"/><path d="M9.300 10.500c0-1.600 1-2.500 4-2.500s4.300.9 4.300 2.500v4.200c0 2.800-1.800 5.300-4.300 5.300s-4-2.500-4-5.300z" fill="#c4958a"/><path d="M7 12.500c-.3-1.600-.5-4.400.6-6.200C8.800 4.200 10.800 3 13.300 3c2.700 0 4.600 1.100 5.400 3 .8 1.700.6 4 .3 5.500l-.9-.3c0-1.400-.2-2.600-1-3.400-1.800.6-5 .6-7.200 0-.9.900-1.300 2.600-1.300 5.200z" fill="#40321c"/><path d="M9.800 11.700h2.400M14.600 11.700h2.400" stroke="#6b4038" stroke-width=".9"/><path d="M11.200 16.500c1.200.6 2.800.6 4 0" stroke="#9a6258" stroke-width=".7" fill="none"/><path d="M9.800 18.500c1 1.800 2.300 2.400 3.600 2.400 1.400 0 2.700-.7 3.600-2.400-1 .8-2.300 1.100-3.600 1.100s-2.600-.3-3.600-1.100z" fill="#8a5a4e"/></g></svg></div></div>
</div>
<div class="csb" style="left:1052.800px;top:654px;height:211.800px"></div>

<div class="col" style="left:1083.200px;width:314.600px">
<div class="card" style="margin-bottom:19.600px"><div class="t"><span style="letter-spacing:0.63px">PR#500</span></div><div class="b"><span style="letter-spacing:0.13px">[KEYP-21] [KEYP-47] Notification</span><br><span style="letter-spacing:0.32px">toasts + Builder toasts</span></div><div class="bd"></div><div class="f"><svg class="cal" width="11.600" height="13.500" viewBox="0 0 12 14"><path d="M1.600 3.200h8.800c.5 0 .9.400.9.900v7.800c0 .5-.4.900-.9.900H1.600c-.5 0-.9-.4-.9-.9V4.100c0-.5.4-.9.9-.9z" fill="none" stroke="#222" stroke-width="1.400"/><path d="M.7 3.600c0-.8.5-1.200 1.200-1.200h8.200c.7 0 1.200.4 1.200 1.200v1.500H.7z" fill="#222"/><path d="M3.400.8v2.400M8.600.8v2.400" stroke="#222" stroke-width="1.500" stroke-linecap="round"/></svg><span class="d"><span style="letter-spacing:0.75px">15 May 2022</span><span class="r" style="letter-spacing:0.56px">(10 days ago)</span></span><svg class="av" viewBox="0 0 25 25"><g filter="url(#bl)" transform="translate(13 9.800) scale(1.380 1.400) translate(-13.200 -12)"><path d="M7.600 9.500c0-4.200 2.400-6.200 5.600-6.200 3.600 0 5.600 2.200 5.600 6.200v4.800c0 3.900-2.600 6.200-5.600 6.200-3.200 0-5.600-2.400-5.600-6.200z" fill="#a97c6c"/><path d="M9.300 10.500c0-1.600 1-2.500 4-2.500s4.300.9 4.300 2.500v4.200c0 2.800-1.800 5.300-4.300 5.300s-4-2.500-4-5.300z" fill="#c4958a"/><path d="M7 12.500c-.3-1.600-.5-4.400.6-6.200C8.800 4.200 10.800 3 13.300 3c2.700 0 4.600 1.100 5.400 3 .8 1.700.6 4 .3 5.500l-.9-.3c0-1.400-.2-2.600-1-3.400-1.800.6-5 .6-7.200 0-.9.900-1.300 2.600-1.300 5.200z" fill="#40321c"/><path d="M9.800 11.700h2.400M14.600 11.700h2.400" stroke="#6b4038" stroke-width=".9"/><path d="M11.200 16.500c1.200.6 2.800.6 4 0" stroke="#9a6258" stroke-width=".7" fill="none"/><path d="M9.800 18.500c1 1.800 2.300 2.400 3.600 2.400 1.400 0 2.700-.7 3.600-2.400-1 .8-2.300 1.100-3.600 1.100s-2.600-.3-3.600-1.100z" fill="#8a5a4e"/></g></svg></div></div>
<div class="card" style=""><div class="t"><span style="letter-spacing:-0.09px">PR#501</span></div><div class="b"><span style="letter-spacing:0.11px">[KEYP-36] [KEYP-67] Dashboard</span><br><span style="letter-spacing:0.45px">+ table widget + column chart</span><br><span style="letter-spacing:0.27px">fixes</span></div><div class="bd"></div><div class="f"><svg class="cal" width="11.600" height="13.500" viewBox="0 0 12 14"><path d="M1.600 3.200h8.800c.5 0 .9.400.9.900v7.800c0 .5-.4.900-.9.900H1.600c-.5 0-.9-.4-.9-.9V4.100c0-.5.4-.9.9-.9z" fill="none" stroke="#222" stroke-width="1.400"/><path d="M.7 3.600c0-.8.5-1.200 1.200-1.200h8.200c.7 0 1.200.4 1.200 1.200v1.500H.7z" fill="#222"/><path d="M3.400.8v2.400M8.600.8v2.400" stroke="#222" stroke-width="1.500" stroke-linecap="round"/></svg><span class="d"><span style="letter-spacing:0.75px">18 May 2022</span><span class="r" style="letter-spacing:0.6px">(7 days ago)</span></span><svg class="av" viewBox="0 0 25 25"><g filter="url(#bl)" transform="translate(13 9.800) scale(1.380 1.400) translate(-13.200 -12)"><path d="M7.600 9.500c0-4.200 2.400-6.200 5.600-6.200 3.600 0 5.600 2.200 5.600 6.200v4.800c0 3.900-2.600 6.200-5.600 6.200-3.200 0-5.600-2.400-5.600-6.200z" fill="#a97c6c"/><path d="M9.300 10.500c0-1.600 1-2.500 4-2.500s4.300.9 4.300 2.500v4.200c0 2.800-1.800 5.300-4.300 5.300s-4-2.500-4-5.300z" fill="#c4958a"/><path d="M7 12.500c-.3-1.600-.5-4.400.6-6.200C8.800 4.200 10.800 3 13.300 3c2.700 0 4.600 1.100 5.400 3 .8 1.700.6 4 .3 5.500l-.9-.3c0-1.400-.2-2.600-1-3.400-1.800.6-5 .6-7.200 0-.9.900-1.300 2.600-1.300 5.200z" fill="#40321c"/><path d="M9.800 11.700h2.400M14.600 11.700h2.400" stroke="#6b4038" stroke-width=".9"/><path d="M11.200 16.500c1.200.6 2.800.6 4 0" stroke="#9a6258" stroke-width=".7" fill="none"/><path d="M9.800 18.500c1 1.800 2.300 2.400 3.600 2.400 1.400 0 2.700-.7 3.600-2.400-1 .8-2.300 1.100-3.600 1.100s-2.600-.3-3.600-1.100z" fill="#8a5a4e"/></g></svg></div></div>
</div>

<div class="col" style="left:1417.200px;width:314.600px">
<div class="card" style=""><div class="t"><span style="letter-spacing:0.57px">PR#483</span></div><div class="b"><span style="letter-spacing:0.43px">add v-separator and h-separator</span></div><div class="bd"></div><div class="f n a"><svg class="cal" width="11.600" height="13.500" viewBox="0 0 12 14"><path d="M1.600 3.200h8.800c.5 0 .9.400.9.900v7.800c0 .5-.4.900-.9.900H1.600c-.5 0-.9-.4-.9-.9V4.100c0-.5.4-.9.9-.9z" fill="none" stroke="#222" stroke-width="1.400"/><path d="M.7 3.600c0-.8.5-1.200 1.200-1.200h8.200c.7 0 1.200.4 1.200 1.200v1.500H.7z" fill="#222"/><path d="M3.400.8v2.400M8.600.8v2.400" stroke="#222" stroke-width="1.500" stroke-linecap="round"/></svg><span class="d"><span style="letter-spacing:0.58px">No due date</span></span><svg class="av" viewBox="0 0 25 25"><g filter="url(#bl)" transform="translate(13 9.800) scale(1.380 1.400) translate(-13.200 -12)"><path d="M7.600 9.500c0-4.200 2.400-6.200 5.600-6.200 3.600 0 5.600 2.200 5.600 6.200v4.800c0 3.900-2.600 6.200-5.600 6.200-3.200 0-5.600-2.400-5.600-6.200z" fill="#a97c6c"/><path d="M9.300 10.500c0-1.600 1-2.500 4-2.500s4.300.9 4.300 2.500v4.200c0 2.800-1.800 5.300-4.300 5.300s-4-2.500-4-5.300z" fill="#c4958a"/><path d="M7 12.500c-.3-1.600-.5-4.400.6-6.200C8.800 4.200 10.800 3 13.300 3c2.700 0 4.600 1.100 5.400 3 .8 1.700.6 4 .3 5.500l-.9-.3c0-1.400-.2-2.600-1-3.400-1.800.6-5 .6-7.200 0-.9.900-1.300 2.600-1.300 5.200z" fill="#40321c"/><path d="M9.800 11.700h2.400M14.600 11.700h2.400" stroke="#6b4038" stroke-width=".9"/><path d="M11.200 16.500c1.200.6 2.800.6 4 0" stroke="#9a6258" stroke-width=".7" fill="none"/><path d="M9.800 18.500c1 1.800 2.300 2.400 3.600 2.400 1.400 0 2.700-.7 3.600-2.400-1 .8-2.300 1.100-3.600 1.100s-2.600-.3-3.600-1.100z" fill="#8a5a4e"/></g></svg></div></div>
</div>

<div class="col" style="left:1751.200px;width:300.400px">
<div class="card" style="margin-bottom:18.500px"><div class="t"><span style="letter-spacing:0.51px">PR#243</span></div><div class="b"><span style="letter-spacing:0.01px">Bump nokogiri from 1.13.3 to</span><br><span style="letter-spacing:-1.16px">1.13.6</span></div><div class="bd h"><span class="bg" style="background:#cfe0f7;color:#0d274a;letter-spacing:0.34px">dependencies</span></div><div class="f n"><svg class="cal" width="11.600" height="13.500" viewBox="0 0 12 14"><path d="M1.600 3.200h8.800c.5 0 .9.400.9.900v7.800c0 .5-.4.900-.9.900H1.600c-.5 0-.9-.4-.9-.9V4.100c0-.5.4-.9.9-.9z" fill="none" stroke="#222" stroke-width="1.400"/><path d="M.7 3.600c0-.8.5-1.200 1.200-1.200h8.200c.7 0 1.200.4 1.200 1.200v1.500H.7z" fill="#222"/><path d="M3.400.8v2.400M8.600.8v2.400" stroke="#222" stroke-width="1.500" stroke-linecap="round"/></svg><span class="d"><span style="letter-spacing:0.58px">No due date</span></span></div></div>
<div class="card" style="margin-bottom:18.500px"><div class="t"><span style="letter-spacing:-0.09px">PR#241</span></div><div class="b"><span style="letter-spacing:0.14px">Bump puma from 5.6.2 to 5.6.4</span></div><div class="bd h"><span class="bg" style="background:#cfe0f7;color:#0d274a;letter-spacing:0.34px">dependencies</span></div><div class="f n"><svg class="cal" width="11.600" height="13.500" viewBox="0 0 12 14"><path d="M1.600 3.200h8.800c.5 0 .9.400.9.900v7.800c0 .5-.4.900-.9.900H1.600c-.5 0-.9-.4-.9-.9V4.100c0-.5.4-.9.9-.9z" fill="none" stroke="#222" stroke-width="1.400"/><path d="M.7 3.600c0-.8.5-1.200 1.200-1.200h8.200c.7 0 1.200.4 1.200 1.200v1.500H.7z" fill="#222"/><path d="M3.400.8v2.400M8.600.8v2.400" stroke="#222" stroke-width="1.500" stroke-linecap="round"/></svg><span class="d"><span style="letter-spacing:0.58px">No due date</span></span></div></div>
<div class="card" style="margin-bottom:19px"><div class="t"><span style="letter-spacing:0.57px">PR#505</span></div><div class="b"><span style="letter-spacing:0.06px">Release: Production</span></div><div class="bd h"><span class="bg" style="background:#f1dff5;color:#3b1342;letter-spacing:-0.18px">release</span></div><div class="f n"><svg class="cal" width="11.600" height="13.500" viewBox="0 0 12 14"><path d="M1.600 3.200h8.800c.5 0 .9.400.9.900v7.800c0 .5-.4.900-.9.900H1.600c-.5 0-.9-.4-.9-.9V4.100c0-.5.4-.9.9-.9z" fill="none" stroke="#222" stroke-width="1.400"/><path d="M.7 3.600c0-.8.5-1.200 1.200-1.200h8.200c.7 0 1.200.4 1.200 1.200v1.500H.7z" fill="#222"/><path d="M3.400.8v2.400M8.600.8v2.400" stroke="#222" stroke-width="1.500" stroke-linecap="round"/></svg><span class="d"><span style="letter-spacing:0.58px">No due date</span></span></div></div>
<div class="card" style=""><div class="t"><span style="letter-spacing:0.57px">PR#499</span></div><div class="b">&nbsp;</div><div class="bd"></div><div class="f n"><svg class="cal" width="11.600" height="13.500" viewBox="0 0 12 14"><path d="M1.600 3.200h8.800c.5 0 .9.400.9.900v7.800c0 .5-.4.900-.9.900H1.600c-.5 0-.9-.4-.9-.9V4.100c0-.5.4-.9.9-.9z" fill="none" stroke="#222" stroke-width="1.400"/><path d="M.7 3.600c0-.8.5-1.200 1.200-1.200h8.200c.7 0 1.200.4 1.200 1.200v1.500H.7z" fill="#222"/><path d="M3.400.8v2.400M8.600.8v2.400" stroke="#222" stroke-width="1.500" stroke-linecap="round"/></svg><span class="d"><span style="letter-spacing:0.58px">No due date</span></span></div></div>
</div>
<div class="csb" style="left:2053.500px;top:654px;height:203.400px"></div>

</body>
</html>
